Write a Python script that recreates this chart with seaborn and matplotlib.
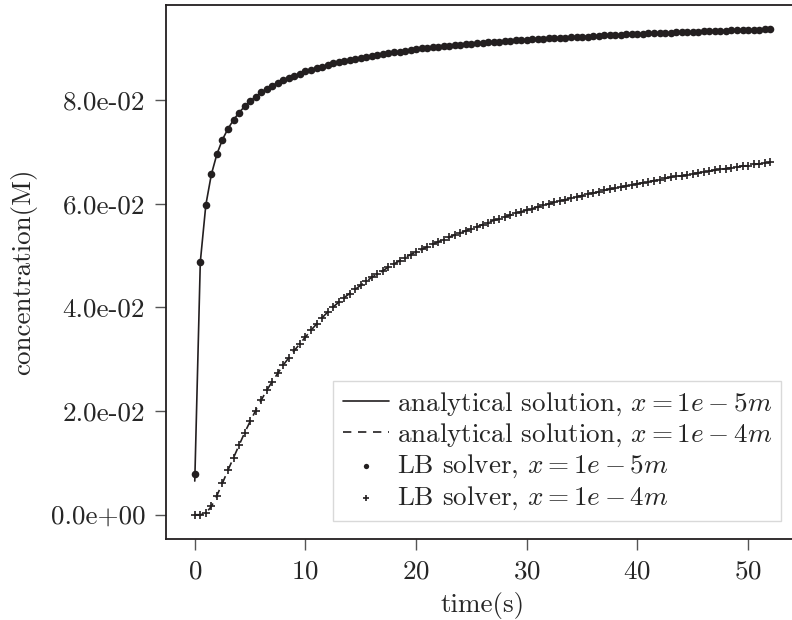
import numpy as np
import pandas as pd
import matplotlib
matplotlib.use("Agg")
import matplotlib.pyplot as plt
from matplotlib.ticker import FormatStrFormatter
import seaborn as sns

sns.set_theme(style="ticks")
plt.rcParams["font.family"] = "serif"
plt.rcParams["font.serif"] = ["cmr10"]
plt.rcParams["mathtext.fontset"] = "cm"
plt.rcParams["axes.formatter.use_mathtext"] = True

# time grid of the solver output (every 0.5 s)
time_s = np.arange(0, 52.5, 0.5)

# LB solver, x = 1e-5 m
lb_1e5 = [
    0.0078, 0.0488, 0.0598, 0.0657, 0.0696, 0.0724, 0.0745, 0.0762, 0.0776, 0.0788,
    0.0798, 0.0807, 0.0815, 0.0822, 0.0828, 0.0834, 0.0839, 0.0843, 0.0847, 0.0851,
    0.0856, 0.0859, 0.0862, 0.0865, 0.0868, 0.0871, 0.0873, 0.0876, 0.0878, 0.0880,
    0.0882, 0.0884, 0.0886, 0.0888, 0.0890, 0.0891, 0.0893, 0.0894, 0.0896, 0.0897,
    0.0899, 0.0900, 0.0901, 0.0902, 0.0903, 0.0904, 0.0905, 0.0906, 0.0907, 0.0908,
    0.0909, 0.0910, 0.0911, 0.0912, 0.0913, 0.0913, 0.0914, 0.0915, 0.0916, 0.0916,
    0.0917, 0.0918, 0.0918, 0.0919, 0.0920, 0.0920, 0.0921, 0.0921, 0.0922, 0.0922,
    0.0923, 0.0923, 0.0924, 0.0924, 0.0925, 0.0925, 0.0926, 0.0926, 0.0927, 0.0927,
    0.0928, 0.0928, 0.0929, 0.0929, 0.0930, 0.0930, 0.0930, 0.0931, 0.0931, 0.0932,
    0.0932, 0.0932, 0.0933, 0.0933, 0.0933, 0.0934, 0.0934, 0.0935, 0.0935, 0.0935,
    0.0936, 0.0936, 0.0936, 0.0937, 0.0937,
]

# LB solver, x = 1e-4 m
lb_1e4 = [
    0.0000, 0.0000, 0.0003, 0.0016, 0.0037, 0.0061, 0.0086, 0.0110, 0.0134, 0.0158,
    0.0180, 0.0201, 0.0221, 0.0240, 0.0257, 0.0273, 0.0289, 0.0303, 0.0317, 0.0330,
    0.0343, 0.0356, 0.0368, 0.0380, 0.0391, 0.0401, 0.0410, 0.0419, 0.0427, 0.0435,
    0.0443, 0.0451, 0.0458, 0.0465, 0.0471, 0.0478, 0.0484, 0.0490, 0.0496, 0.0502,
    0.0507, 0.0512, 0.0517, 0.0522, 0.0527, 0.0531, 0.0536, 0.0540, 0.0544, 0.0548,
    0.0552, 0.0556, 0.0560, 0.0564, 0.0568, 0.0571, 0.0575, 0.0578, 0.0582, 0.0585,
    0.0588, 0.0591, 0.0594, 0.0597, 0.0600, 0.0603, 0.0606, 0.0608, 0.0611, 0.0614,
    0.0616, 0.0619, 0.0621, 0.0623, 0.0626, 0.0628, 0.0630, 0.0632, 0.0635, 0.0637,
    0.0639, 0.0641, 0.0643, 0.0645, 0.0647, 0.0649, 0.0651, 0.0653, 0.0654, 0.0656,
    0.0658, 0.0660, 0.0662, 0.0663, 0.0665, 0.0667, 0.0668, 0.0670, 0.0671, 0.0673,
    0.0674, 0.0676, 0.0677, 0.0679, 0.0680,
]

# analytical curves sit on top of the solver points, except the very first sample
analytic_1e5 = [0.0065] + lb_1e5[1:]
analytic_1e4 = list(lb_1e4)

labels = [
    r"analytical solution, $x = 1e - 5m$",
    r"analytical solution, $x = 1e - 4m$",
    r"LB solver, $x = 1e - 5m$",
    r"LB solver, $x = 1e - 4m$",
]

df = pd.DataFrame({
    "time": time_s,
    "an5": analytic_1e5,
    "an4": analytic_1e4,
    "lb5": lb_1e5,
    "lb4": lb_1e4,
})

ink = "#231f20"
fs = 19.5

fig = plt.figure(figsize=(7.92, 6.2), dpi=100)
ax = fig.add_axes([166 / 792, 81 / 620, 633 / 792, 534 / 620])

sns.lineplot(data=df, x="time", y="an5", ax=ax, color=ink, lw=1.2, label=labels[0])
sns.lineplot(data=df, x="time", y="an4", ax=ax, color=ink, lw=1.2, linestyle=(0, (5, 4)), label=labels[1])
sns.scatterplot(data=df, x="time", y="lb5", ax=ax, color=ink, marker="o", s=30,
                edgecolor=ink, linewidth=0, label=labels[2], zorder=3)
sns.scatterplot(data=df, x="time", y="lb4", ax=ax, color=ink, marker="+", s=36,
                linewidth=1.2, label=labels[3], zorder=3)

ax.yaxis.set_major_formatter(FormatStrFormatter("%.1e"))
ax.set_xticks([0, 10, 20, 30, 40, 50])
ax.set_yticks([0, 0.02, 0.04, 0.06, 0.08])
ax.set_xlabel("time(s)", fontsize=fs, labelpad=6)
ax.set_ylabel("concentration(M)", fontsize=fs, labelpad=10)
ax.tick_params(labelsize=fs, length=8, width=1, color="#555555", direction="out", pad=7)
for sp in ax.spines.values():
    sp.set_color(ink)
    sp.set_linewidth(1.3)

leg = ax.legend(loc="lower right", fontsize=fs, frameon=True, fancybox=False,
                edgecolor="#d0d0d0", handlelength=1.7, handletextpad=0.3,
                markerscale=0.7, labelspacing=0.15, borderpad=0.35,
                borderaxespad=0.65)
leg.get_frame().set_linewidth(1.0)

fig.savefig("out.png", dpi=100)
